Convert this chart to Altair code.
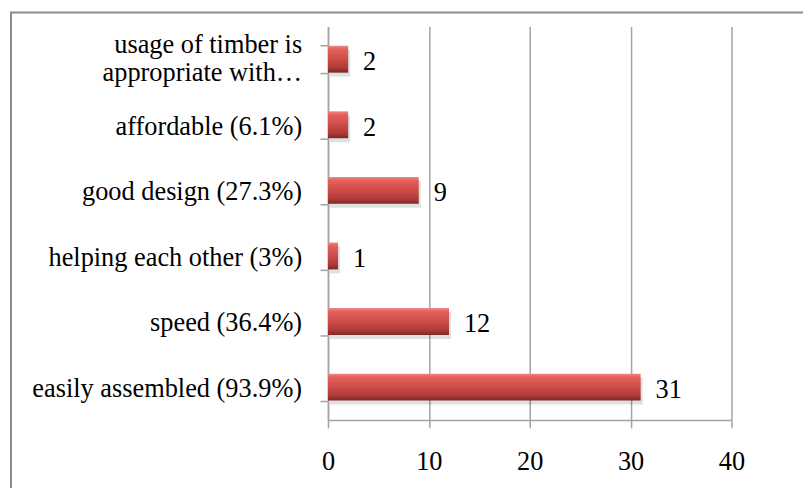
import altair as alt
import pandas as pd

categories = [
    "usage of timber is|appropriate with…",
    "affordable (6.1%)",
    "good design (27.3%)",
    "helping each other (3%)",
    "speed (36.4%)",
    "easily assembled (93.9%)",
]
counts = [2, 2, 9, 1, 12, 31]
x_ticks = [0, 10, 20, 30, 40]

df = pd.DataFrame({"cat": categories, "n": counts})

FONT = "Liberation Serif"
FS = 26.5
GRID = "#a3a3a3"

y_enc = alt.Y(
    "cat:N",
    sort=categories,
    scale=alt.Scale(paddingInner=0.59, paddingOuter=0.295),
    axis=alt.Axis(
        title=None,
        labels=False,
        tickBand="extent",
        tickSize=8,
        tickColor=GRID,
        tickWidth=1.5,
        domainColor=GRID,
        domainWidth=1.5,
        grid=False,
    ),
)
x_enc = alt.X(
    "n:Q",
    scale=alt.Scale(domain=[0, 40], nice=False),
    axis=alt.Axis(
        title=None,
        values=x_ticks,
        labelFont=FONT,
        labelFontSize=FS,
        labelColor="#000000",
        labelPadding=21,
        labelFlush=False,
        tickSize=8,
        tickColor=GRID,
        tickWidth=1.5,
        domainColor=GRID,
        domainWidth=1.5,
        grid=True,
        gridColor=GRID,
        gridWidth=1.5,
    ),
)

bar_grad = alt.Gradient(
    gradient="linear",
    x1=0, y1=0, x2=0, y2=1,
    stops=[
        alt.GradientStop(offset=0.0, color="#ec8c89"),
        alt.GradientStop(offset=0.12, color="#e4615d"),
        alt.GradientStop(offset=0.45, color="#d14e4a"),
        alt.GradientStop(offset=0.8, color="#b23c39"),
        alt.GradientStop(offset=1.0, color="#7d2826"),
    ],
)

base = alt.Chart(df)

border = alt.Chart(pd.DataFrame({"a": [0]})).mark_rect(
    filled=False, stroke="#8c8c8c", strokeWidth=2
).encode(
    x=alt.value(-319), x2=alt.value(700),
    y=alt.value(-14), y2=alt.value(700),
)

shadow = base.mark_bar(color="#000000", opacity=0.12, xOffset=2, yOffset=4).encode(
    x=x_enc, y=y_enc
)
bars = base.mark_bar(color=bar_grad).encode(x=x_enc, y=y_enc)
values = base.mark_text(
    align="left", baseline="middle", dx=15, dy=3, font=FONT, fontSize=FS, color="#000000"
).encode(x=x_enc, y=y_enc, text="n:Q")

cat_single = base.transform_filter("indexof(datum.cat, '|') < 0").mark_text(
    align="right", baseline="middle", dy=2, font=FONT, fontSize=FS, color="#000000"
).encode(x=alt.value(-26), y=y_enc, text="cat:N")
cat_multi = base.transform_filter("indexof(datum.cat, '|') >= 0").mark_text(
    align="right", baseline="line-bottom", lineBreak="|", lineHeight=28,
    font=FONT, fontSize=FS, color="#000000"
).encode(x=alt.value(-26), y=y_enc, text="cat:N")

chart = (
    alt.layer(border, shadow, bars, values, cat_single, cat_multi)
    .properties(
        width=406,
        height=396,
        autosize=alt.AutoSizeParams(type="none"),
        padding={"left": 322, "top": 17, "right": 72, "bottom": 67},
        background="#ffffff",
    )
    .configure_view(stroke=None)
)

chart.save("out.html", embed_options={"renderer": "svg", "actions": False})
